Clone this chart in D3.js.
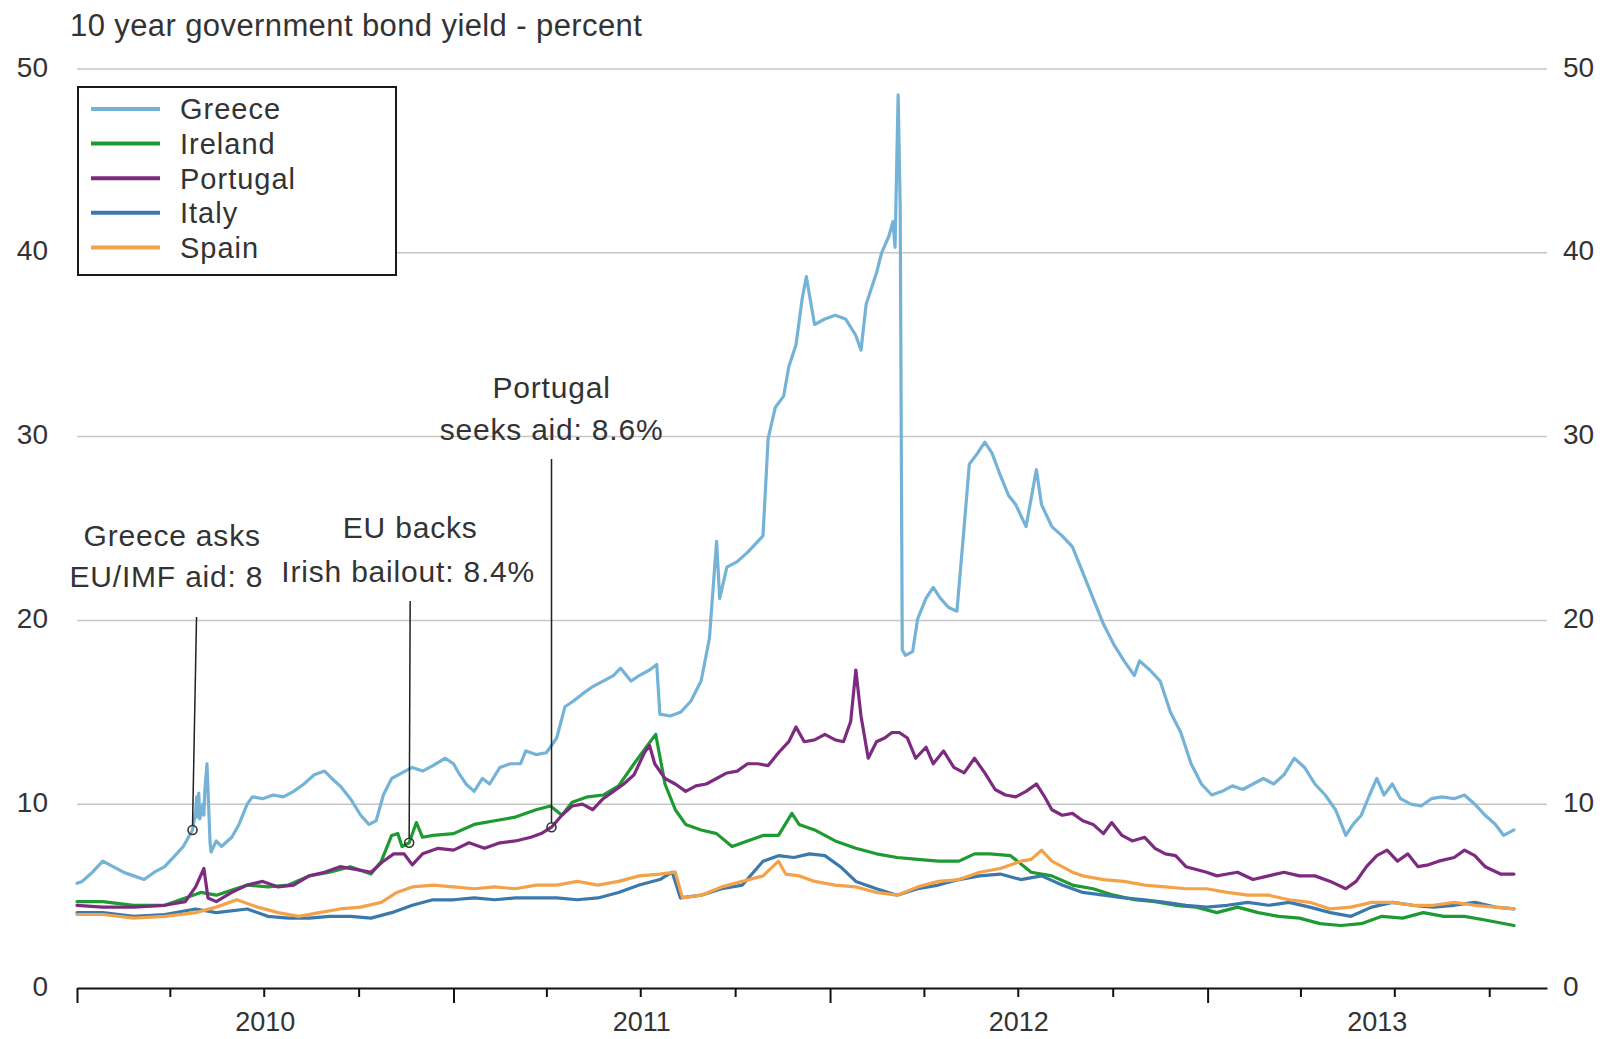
<!DOCTYPE html>
<html><head><meta charset="utf-8">
<script src="https://cdn.jsdelivr.net/npm/d3@7"></script>
<style>
html,body{margin:0;padding:0;background:#fff;}
svg text{font-family:"Liberation Sans",Arial,sans-serif;}
</style></head><body>
<svg id="chart" width="1617" height="1039"></svg>
<script>
// ---------------- DATA ----------------
const titleText = "10 year government bond yield - percent";
const seriesNames = ["Greece", "Ireland", "Portugal", "Italy", "Spain"];
const seriesColors = ["#74b3d6", "#1e9a33", "#7d2b7f", "#3b78ab", "#f4a24a"];
const yTicks = [0, 10, 20, 30, 40, 50];
const yearLabels = ["2010", "2011", "2012", "2013"];

const greece = [["2010-01-01",5.7],["2010-01-06",5.8],["2010-01-16",6.3],["2010-01-26",6.9],["2010-02-05",6.6],["2010-02-15",6.3],["2010-02-25",6.1],["2010-03-07",5.9],["2010-03-17",6.3],["2010-03-27",6.6],["2010-04-06",7.2],["2010-04-14",7.7],["2010-04-23",8.6],["2010-04-26",9.6],["2010-04-27",10.4],["2010-04-28",9.3],["2010-04-29",10.6],["2010-04-30",9.2],["2010-05-03",10.0],["2010-05-04",9.4],["2010-05-05",10.8],["2010-05-06",11.5],["2010-05-07",12.2],["2010-05-10",7.9],["2010-05-11",7.4],["2010-05-16",8.0],["2010-05-21",7.7],["2010-05-31",8.2],["2010-06-07",8.9],["2010-06-15",10.0],["2010-06-20",10.4],["2010-06-30",10.3],["2010-07-10",10.5],["2010-07-20",10.4],["2010-07-30",10.7],["2010-08-09",11.1],["2010-08-19",11.6],["2010-08-29",11.8],["2010-09-05",11.4],["2010-09-13",11.0],["2010-09-23",10.3],["2010-10-03",9.4],["2010-10-11",8.9],["2010-10-18",9.1],["2010-10-25",10.5],["2010-11-02",11.4],["2010-11-12",11.7],["2010-11-22",12.0],["2010-12-02",11.8],["2010-12-12",12.1],["2010-12-24",12.5],["2011-01-01",12.2],["2011-01-06",11.7],["2011-01-13",11.1],["2011-01-21",10.7],["2011-01-29",11.4],["2011-02-05",11.1],["2011-02-15",12.0],["2011-02-25",12.2],["2011-03-07",12.2],["2011-03-12",12.9],["2011-03-22",12.7],["2011-04-01",12.8],["2011-04-11",13.6],["2011-04-19",15.3],["2011-04-27",15.6],["2011-05-06",16.0],["2011-05-16",16.4],["2011-05-26",16.7],["2011-06-05",17.0],["2011-06-12",17.4],["2011-06-22",16.7],["2011-06-30",17.0],["2011-07-10",17.3],["2011-07-17",17.6],["2011-07-20",14.9],["2011-07-30",14.8],["2011-08-09",15.0],["2011-08-19",15.6],["2011-08-29",16.7],["2011-09-06",19.0],["2011-09-13",24.3],["2011-09-16",21.2],["2011-09-23",22.9],["2011-10-03",23.2],["2011-10-13",23.7],["2011-10-23",24.3],["2011-10-28",24.6],["2011-11-02",29.9],["2011-11-09",31.6],["2011-11-17",32.2],["2011-11-22",33.8],["2011-11-29",35.0],["2011-12-05",37.5],["2011-12-09",38.7],["2011-12-17",36.1],["2011-12-27",36.4],["2012-01-06",36.6],["2012-01-16",36.4],["2012-01-26",35.5],["2012-01-31",34.7],["2012-02-05",37.2],["2012-02-15",38.9],["2012-02-20",40.0],["2012-02-27",40.9],["2012-03-02",41.7],["2012-03-04",40.3],["2012-03-07",48.6],["2012-03-09",42.5],["2012-03-11",18.4],["2012-03-14",18.1],["2012-03-21",18.3],["2012-03-26",20.1],["2012-04-03",21.2],["2012-04-10",21.8],["2012-04-17",21.2],["2012-04-25",20.7],["2012-05-03",20.5],["2012-05-10",25.1],["2012-05-15",28.5],["2012-05-23",29.1],["2012-05-30",29.7],["2012-06-06",29.1],["2012-06-14",27.9],["2012-06-22",26.8],["2012-06-29",26.3],["2012-07-09",25.1],["2012-07-19",28.2],["2012-07-24",26.3],["2012-08-03",25.1],["2012-08-13",24.6],["2012-08-23",24.0],["2012-09-02",22.6],["2012-09-12",21.2],["2012-09-22",19.8],["2012-10-02",18.7],["2012-10-12",17.8],["2012-10-22",17.0],["2012-10-27",17.8],["2012-11-06",17.3],["2012-11-16",16.7],["2012-11-26",15.0],["2012-12-06",13.9],["2012-12-16",12.2],["2012-12-26",11.1],["2013-01-05",10.5],["2013-01-15",10.7],["2013-01-25",11.0],["2013-02-04",10.8],["2013-02-14",11.1],["2013-02-24",11.4],["2013-03-06",11.1],["2013-03-16",11.6],["2013-03-26",12.5],["2013-04-05",12.0],["2013-04-15",11.1],["2013-04-25",10.5],["2013-05-05",9.7],["2013-05-15",8.3],["2013-05-22",8.9],["2013-05-30",9.4],["2013-06-07",10.5],["2013-06-14",11.4],["2013-06-21",10.5],["2013-06-29",11.1],["2013-07-07",10.3],["2013-07-17",10.0],["2013-07-27",9.9],["2013-08-06",10.3],["2013-08-16",10.4],["2013-08-28",10.3],["2013-09-07",10.5],["2013-09-17",10.0],["2013-09-27",9.4],["2013-10-07",8.9],["2013-10-15",8.3],["2013-10-25",8.6]];

const ireland = [["2010-01-01",4.7],["2010-01-26",4.7],["2010-02-25",4.5],["2010-03-27",4.5],["2010-04-16",4.9],["2010-05-01",5.2],["2010-05-16",5.05],["2010-06-15",5.6],["2010-07-05",5.5],["2010-07-25",5.6],["2010-08-14",6.1],["2010-09-03",6.3],["2010-09-23",6.6],["2010-10-13",6.2],["2010-10-23",6.9],["2010-11-02",8.3],["2010-11-08",8.4],["2010-11-12",7.7],["2010-11-19",7.9],["2010-11-26",9.0],["2010-12-02",8.2],["2010-12-12",8.3],["2011-01-01",8.4],["2011-01-21",8.9],["2011-02-10",9.1],["2011-03-02",9.3],["2011-03-22",9.7],["2011-04-05",9.9],["2011-04-16",9.4],["2011-04-26",10.1],["2011-05-11",10.4],["2011-05-26",10.5],["2011-06-10",11.0],["2011-06-25",12.2],["2011-07-08",13.2],["2011-07-16",13.8],["2011-07-25",11.1],["2011-08-04",9.7],["2011-08-14",8.9],["2011-08-29",8.6],["2011-09-13",8.4],["2011-09-28",7.7],["2011-10-13",8.0],["2011-10-28",8.3],["2011-11-12",8.3],["2011-11-25",9.5],["2011-12-02",8.9],["2011-12-17",8.6],["2012-01-06",8.0],["2012-01-26",7.6],["2012-02-15",7.3],["2012-03-06",7.1],["2012-03-26",7.0],["2012-04-15",6.9],["2012-05-05",6.9],["2012-05-20",7.3],["2012-06-04",7.3],["2012-06-24",7.2],["2012-07-14",6.3],["2012-08-03",6.1],["2012-08-23",5.6],["2012-09-12",5.4],["2012-10-02",5.05],["2012-10-22",4.8],["2012-11-11",4.7],["2012-12-01",4.5],["2012-12-21",4.4],["2013-01-10",4.1],["2013-01-30",4.4],["2013-02-19",4.1],["2013-03-11",3.9],["2013-03-31",3.8],["2013-04-20",3.5],["2013-05-10",3.4],["2013-05-30",3.5],["2013-06-19",3.9],["2013-07-09",3.8],["2013-07-29",4.1],["2013-08-18",3.9],["2013-09-07",3.9],["2013-09-27",3.7],["2013-10-25",3.4]];

const portugal = [["2010-01-01",4.5],["2010-01-26",4.4],["2010-02-25",4.4],["2010-03-27",4.5],["2010-04-16",4.7],["2010-04-26",5.5],["2010-05-04",6.5],["2010-05-08",4.9],["2010-05-16",4.7],["2010-05-31",5.2],["2010-06-15",5.6],["2010-06-30",5.8],["2010-07-15",5.5],["2010-07-30",5.6],["2010-08-14",6.1],["2010-08-29",6.3],["2010-09-13",6.6],["2010-09-28",6.45],["2010-10-13",6.3],["2010-10-25",6.9],["2010-11-04",7.3],["2010-11-14",7.3],["2010-11-22",6.7],["2010-12-02",7.3],["2010-12-17",7.6],["2011-01-01",7.5],["2011-01-16",7.9],["2011-01-31",7.6],["2011-02-15",7.9],["2011-03-02",8.0],["2011-03-17",8.2],["2011-03-27",8.4],["2011-04-06",8.75],["2011-04-16",9.4],["2011-04-26",9.9],["2011-05-06",10.0],["2011-05-16",9.7],["2011-05-26",10.3],["2011-06-05",10.7],["2011-06-15",11.1],["2011-06-25",11.6],["2011-07-05",12.8],["2011-07-10",13.2],["2011-07-15",12.2],["2011-07-25",11.4],["2011-08-04",11.1],["2011-08-14",10.7],["2011-08-24",11.0],["2011-09-03",11.1],["2011-09-13",11.4],["2011-09-23",11.7],["2011-10-03",11.8],["2011-10-13",12.2],["2011-10-23",12.2],["2011-11-02",12.1],["2011-11-12",12.8],["2011-11-22",13.4],["2011-11-29",14.2],["2011-12-07",13.4],["2011-12-17",13.5],["2011-12-27",13.8],["2012-01-06",13.5],["2012-01-14",13.4],["2012-01-21",14.5],["2012-01-26",17.3],["2012-01-31",14.8],["2012-02-07",12.5],["2012-02-15",13.4],["2012-02-23",13.6],["2012-03-01",13.9],["2012-03-08",13.9],["2012-03-16",13.6],["2012-03-24",12.5],["2012-04-03",13.1],["2012-04-10",12.2],["2012-04-20",12.9],["2012-04-30",12.0],["2012-05-10",11.7],["2012-05-20",12.5],["2012-05-30",11.7],["2012-06-09",10.8],["2012-06-19",10.5],["2012-06-29",10.4],["2012-07-09",10.7],["2012-07-19",11.1],["2012-07-26",10.5],["2012-08-03",9.7],["2012-08-13",9.4],["2012-08-23",9.5],["2012-09-02",9.1],["2012-09-12",8.9],["2012-09-22",8.4],["2012-09-30",9.0],["2012-10-10",8.3],["2012-10-20",8.0],["2012-11-01",8.2],["2012-11-11",7.6],["2012-11-21",7.3],["2012-12-01",7.2],["2012-12-11",6.6],["2012-12-21",6.45],["2012-12-31",6.3],["2013-01-10",6.1],["2013-01-20",6.2],["2013-01-30",6.3],["2013-02-14",5.9],["2013-03-01",6.1],["2013-03-16",6.3],["2013-03-31",6.1],["2013-04-15",6.1],["2013-04-30",5.8],["2013-05-15",5.4],["2013-05-25",5.8],["2013-06-04",6.6],["2013-06-14",7.2],["2013-06-24",7.5],["2013-07-04",6.9],["2013-07-14",7.3],["2013-07-24",6.6],["2013-08-03",6.7],["2013-08-13",6.9],["2013-08-28",7.1],["2013-09-07",7.5],["2013-09-17",7.2],["2013-09-27",6.6],["2013-10-12",6.2],["2013-10-25",6.2]];

const italy = [["2010-01-01",4.1],["2010-01-26",4.1],["2010-02-25",3.9],["2010-03-27",4.0],["2010-04-26",4.3],["2010-05-16",4.1],["2010-06-15",4.3],["2010-07-05",3.9],["2010-07-25",3.8],["2010-08-14",3.8],["2010-09-03",3.9],["2010-09-23",3.9],["2010-10-13",3.8],["2010-11-02",4.1],["2010-11-22",4.5],["2010-12-12",4.8],["2011-01-01",4.8],["2011-01-21",4.9],["2011-02-10",4.8],["2011-03-02",4.9],["2011-03-22",4.9],["2011-04-11",4.9],["2011-05-01",4.8],["2011-05-21",4.9],["2011-06-10",5.2],["2011-06-30",5.6],["2011-07-20",5.9],["2011-08-01",6.3],["2011-08-09",4.9],["2011-08-29",5.05],["2011-09-18",5.4],["2011-10-08",5.6],["2011-10-28",6.9],["2011-11-12",7.2],["2011-11-27",7.1],["2011-12-12",7.3],["2011-12-27",7.2],["2012-01-11",6.6],["2012-01-26",5.8],["2012-02-15",5.4],["2012-03-06",5.05],["2012-03-26",5.4],["2012-04-15",5.6],["2012-05-05",5.9],["2012-05-25",6.1],["2012-06-14",6.2],["2012-07-04",5.9],["2012-07-24",6.1],["2012-08-13",5.6],["2012-09-02",5.2],["2012-09-22",5.05],["2012-10-12",4.9],["2012-11-01",4.8],["2012-11-21",4.66],["2012-12-11",4.5],["2012-12-31",4.4],["2013-01-20",4.5],["2013-02-09",4.66],["2013-03-01",4.5],["2013-03-21",4.66],["2013-04-10",4.4],["2013-04-30",4.1],["2013-05-20",3.9],["2013-06-09",4.4],["2013-06-29",4.66],["2013-07-19",4.5],["2013-08-08",4.4],["2013-08-28",4.5],["2013-09-17",4.66],["2013-10-07",4.4],["2013-10-25",4.3]];

const spain = [["2010-01-01",4.0],["2010-01-26",4.0],["2010-02-25",3.8],["2010-03-27",3.9],["2010-04-26",4.1],["2010-05-16",4.4],["2010-06-05",4.8],["2010-06-25",4.4],["2010-07-15",4.1],["2010-08-04",3.9],["2010-08-24",4.1],["2010-09-13",4.3],["2010-10-03",4.4],["2010-10-23",4.66],["2010-11-07",5.2],["2010-11-22",5.5],["2010-12-12",5.6],["2011-01-01",5.5],["2011-01-21",5.4],["2011-02-10",5.5],["2011-03-02",5.4],["2011-03-22",5.6],["2011-04-11",5.6],["2011-05-01",5.8],["2011-05-21",5.6],["2011-06-10",5.8],["2011-06-30",6.1],["2011-07-20",6.2],["2011-08-04",6.3],["2011-08-11",4.9],["2011-08-29",5.05],["2011-09-18",5.5],["2011-10-08",5.8],["2011-10-28",6.1],["2011-11-12",6.9],["2011-11-19",6.2],["2011-12-02",6.1],["2011-12-17",5.8],["2012-01-06",5.6],["2012-01-26",5.5],["2012-02-15",5.2],["2012-03-06",5.05],["2012-03-26",5.5],["2012-04-15",5.8],["2012-05-05",5.9],["2012-05-25",6.3],["2012-06-14",6.5],["2012-07-04",6.9],["2012-07-14",7.0],["2012-07-24",7.5],["2012-08-03",6.9],["2012-08-13",6.6],["2012-08-23",6.3],["2012-09-02",6.1],["2012-09-22",5.9],["2012-10-12",5.8],["2012-11-01",5.6],["2012-11-21",5.5],["2012-12-11",5.4],["2012-12-31",5.4],["2013-01-20",5.2],["2013-02-09",5.05],["2013-03-01",5.05],["2013-03-21",4.8],["2013-04-10",4.66],["2013-04-30",4.3],["2013-05-20",4.4],["2013-06-09",4.66],["2013-06-29",4.66],["2013-07-19",4.5],["2013-08-08",4.5],["2013-08-28",4.66],["2013-09-17",4.5],["2013-10-07",4.4],["2013-10-25",4.3]];

const seriesValues = [greece, ireland, portugal, italy, spain];

const annotationSeries = ["Greece", "Ireland", "Portugal"];
const annotationDates = ["2010-04-23", "2010-11-19", "2011-04-06"];
const annotationLines = [["Greece asks", "EU/IMF aid: 8"], ["EU backs", "Irish bailout: 8.4%"], ["Portugal", "seeks aid: 8.6%"]];

// ---------------- LAYOUT ----------------
const parse = d3.utcParse("%Y-%m-%d");
const M = {left: 77, right: 1547, top: 69, bottom: 988};
const FONT = '"Liberation Sans", Arial, sans-serif';
const textColor = "#333";

const x = d3.scaleUtc().domain([parse("2010-01-01"), parse("2013-11-26")]).range([M.left, M.right]);
const y = d3.scaleLinear().domain([0, 50]).range([M.bottom, M.top]);

const svg = d3.select("#chart");
svg.append("rect").attr("width", 1617).attr("height", 1039).attr("fill", "#fff");

// title
svg.append("text").attr("x", 70).attr("y", 36).attr("font-size", 31)
  .attr("letter-spacing", 0.4).attr("fill", textColor).text(titleText);

// gridlines
svg.append("g").selectAll("line").data(yTicks.filter(v => v > 0)).join("line")
  .attr("x1", M.left).attr("x2", M.right)
  .attr("y1", d => y(d)).attr("y2", d => y(d))
  .attr("stroke", "#c6c6c6").attr("stroke-width", 1.5);

// y axes (labels only)
function styleY(g) {
  g.select(".domain").remove();
  g.attr("font-size", 28).attr("font-family", FONT).attr("color", textColor);
  g.selectAll("text").attr("dy", "0.25em");
}
svg.append("g").attr("transform", `translate(${M.left},0)`)
  .call(d3.axisLeft(y).tickValues(yTicks).tickSize(0).tickPadding(29).tickFormat(d3.format("d")))
  .call(styleY);
svg.append("g").attr("transform", `translate(${M.right},0)`)
  .call(d3.axisRight(y).tickValues(yTicks).tickSize(0).tickPadding(16).tickFormat(d3.format("d")))
  .call(styleY);

// series lines
const line = d3.line().x(d => x(d.date)).y(d => y(d.v));
const parsedSeries = seriesValues.map(arr => arr.map(([d, v]) => ({date: parse(d), v})));
svg.append("g").selectAll("path").data(parsedSeries).join("path")
  .attr("d", line).attr("fill", "none")
  .attr("stroke", (d, i) => seriesColors[i]).attr("stroke-width", 3.2)
  .attr("stroke-linejoin", "round").attr("stroke-linecap", "round");

// x axis
const quarters = d3.utcMonth.every(3).range(x.domain()[0], x.domain()[1]);
const xg = svg.append("g").attr("transform", `translate(0,${M.bottom})`)
  .call(d3.axisBottom(x).tickValues(quarters).tickSizeInner(9).tickSizeOuter(0).tickFormat(""));
xg.select(".domain").attr("stroke", "#111").attr("stroke-width", 2);
xg.selectAll(".tick line").attr("stroke", "#111").attr("stroke-width", 2)
  .attr("y2", d => d.getUTCMonth() === 0 ? 15 : 9);
const d0 = x.domain()[0], d1 = x.domain()[1];
svg.append("g").selectAll("text").data(yearLabels).join("text")
  .attr("x", yl => {
    const s = parse(yl + "-01-01"), e = parse((+yl + 1) + "-01-01");
    return (x(s < d0 ? d0 : s) + x(e > d1 ? d1 : e)) / 2;
  })
  .attr("y", 1031).attr("text-anchor", "middle").attr("font-size", 27)
  .attr("fill", textColor).text(d => d);

// annotations
function valueAt(series, date) {
  const bis = d3.bisector(d => d.date).left;
  const i = bis(series, date);
  if (i <= 0) return series[0].v;
  if (i >= series.length) return series[series.length - 1].v;
  const a = series[i - 1], b = series[i];
  const t = (date - a.date) / (b.date - a.date);
  return a.v + t * (b.v - a.v);
}
const annLayout = [
  {top: 617, slant: 4, anchor: "start", dx: [-113, -127], base: [546, 587], clipRight: 262},
  {top: 601, slant: 1, anchor: "middle", dx: [0, -2], base: [538, 582]},
  {top: 459, slant: 0, anchor: "middle", dx: [0, 0], base: [398, 440]}
];
const defs = svg.append("defs");
defs.append("clipPath").attr("id", "clipGreece").append("rect")
  .attr("x", 0).attr("y", 0).attr("width", annLayout[0].clipRight).attr("height", 1039);

const ag = svg.append("g");
annotationSeries.forEach((name, k) => {
  const s = parsedSeries[seriesNames.indexOf(name)];
  const dt = parse(annotationDates[k]);
  const cx = x(dt), cy = y(valueAt(s, dt));
  const L = annLayout[k];
  const topX = cx + L.slant;
  ag.append("line").attr("x1", cx).attr("y1", cy - 4).attr("x2", topX).attr("y2", L.top)
    .attr("stroke", "#222").attr("stroke-width", 1.5);
  ag.append("circle").attr("cx", cx).attr("cy", cy).attr("r", 4.5)
    .attr("fill", "none").attr("stroke", "#333").attr("stroke-width", 1.6);
  const tg = ag.append("g");
  if (L.clipRight) tg.attr("clip-path", "url(#clipGreece)");
  annotationLines[k].forEach((t, j) => {
    tg.append("text").attr("x", topX + L.dx[j]).attr("y", L.base[j])
      .attr("text-anchor", L.anchor).attr("font-size", 30).attr("letter-spacing", 0.8)
      .attr("fill", textColor).text(t);
  });
});

// legend
const lg = svg.append("g");
lg.append("rect").attr("x", 78).attr("y", 87).attr("width", 318).attr("height", 188)
  .attr("fill", "#fff").attr("stroke", "#1a1a1a").attr("stroke-width", 2);
seriesNames.forEach((n, i) => {
  const yy = 109 + i * 34.6;
  lg.append("line").attr("x1", 91).attr("x2", 160).attr("y1", yy).attr("y2", yy)
    .attr("stroke", seriesColors[i]).attr("stroke-width", 4);
  lg.append("text").attr("x", 180).attr("y", yy).attr("dy", "0.36em")
    .attr("font-size", 29).attr("letter-spacing", 1).attr("fill", textColor).text(n);
});
</script>
</body></html>
